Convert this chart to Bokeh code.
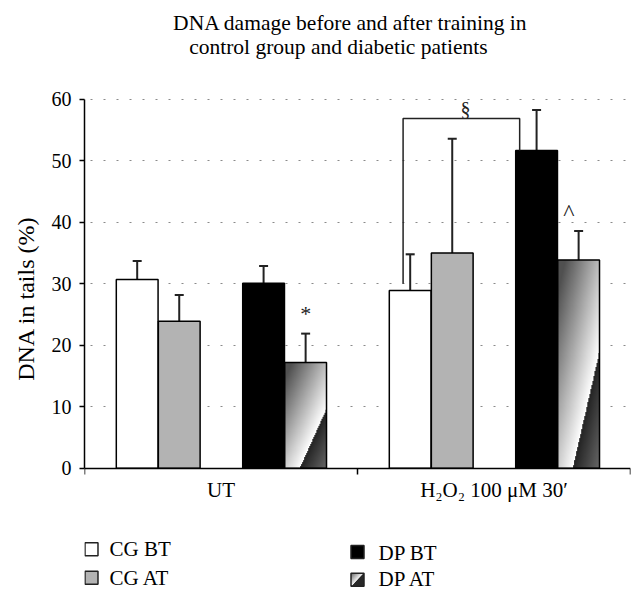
import numpy as np
from bokeh.plotting import figure
from bokeh.models import Range1d, FixedTicker, Whisker, TeeHead, ColumnDataSource
from bokeh.core.properties import value
from bokeh.embed import file_html
from bokeh.resources import INLINE

# ---------------- data ----------------
categories = ["UT", "H\u2082O\u2082 100 \u03bcM 30\u2032"]
series = ["CG BT", "CG AT", "DP BT", "DP AT"]
cg_bt = [30.7, 28.9]
cg_at = [23.9, 35.0]
dp_bt = [30.1, 51.7]
dp_at = [17.2, 33.9]
cg_bt_err = [3.0, 5.9]
cg_at_err = [4.3, 18.6]
dp_bt_err = [2.8, 6.6]
dp_at_err = [4.7, 4.7]
y_ticks = [0, 10, 20, 30, 40, 50, 60]
title_lines = ["DNA damage before and after training in", "control group and diabetic patients"]
y_label = "DNA in tails (%)"
star_y = 25.2          # "*" over UT DP AT
caret_y = 41.7         # "^" over H2O2 DP AT
bracket_top = 56.9     # "§" bracket between H2O2 CG BT and DP BT
bracket_left_bottom = 30.0
section_y = 58.4

FONT = "Liberation Serif"
values = [cg_bt, cg_at, dp_bt, dp_at]
errors = [cg_bt_err, cg_at_err, dp_bt_err, dp_at_err]
fills = ["white", "#b3b3b3", "black", None]
offsets = [0.193, 0.347, 0.656, 0.81]
bar_w = 0.153

W, H = 640, 596
PX_X = 273.0      # pixels per category
PX_Y = 6.145      # pixels per % unit
p = figure(width=W, height=H, output_backend="svg", toolbar_location=None, title=None,
           x_range=Range1d(0, len(categories)), y_range=Range1d(-20.88, 76.11),
           min_border_left=84, min_border_right=10, min_border_top=0, min_border_bottom=0)
p.outline_line_color = None
p.background_fill_color = "white"
p.border_fill_color = "white"
p.xgrid.grid_line_color = None
p.ygrid.grid_line_color = "#8a8a8a"
p.ygrid.grid_line_dash = "2 11"
p.ygrid.grid_line_dash_offset = -6
p.ygrid.grid_line_width = 1.2
p.ygrid.ticker = FixedTicker(ticks=y_ticks)

# y axis
p.yaxis.bounds = (y_ticks[0], y_ticks[-1])
p.yaxis.ticker = FixedTicker(ticks=y_ticks)
p.yaxis.major_tick_out = 5
p.yaxis.major_tick_in = 0
p.yaxis.minor_tick_line_color = None
p.yaxis.major_label_text_font = FONT
p.yaxis.major_label_text_font_size = "20px"
p.yaxis.major_label_text_color = "black"
p.yaxis.major_label_standoff = 8
p.yaxis.axis_line_width = 1.5
p.yaxis.axis_line_color = "black"
p.yaxis.major_tick_line_width = 1.5
p.yaxis.axis_label = y_label
p.yaxis.axis_label_text_font = FONT
p.yaxis.axis_label_text_font_size = "24px"
p.yaxis.axis_label_text_font_style = "normal"
p.yaxis.axis_label_text_color = "black"
p.yaxis.axis_label_standoff = 10

# x axis at y = 0
cat_centers = [i + 0.5 for i in range(len(categories))]
p.xaxis.fixed_location = 0
p.xaxis.bounds = (0, len(categories))
p.xaxis.ticker = FixedTicker(ticks=cat_centers, minor_ticks=list(range(len(categories) + 1)))
p.xaxis.major_label_overrides = {c: n for c, n in zip(cat_centers, categories)}
p.xaxis.major_tick_line_color = None
p.xaxis.minor_tick_line_color = "black"
p.xaxis.minor_tick_out = 6
p.xaxis.minor_tick_in = 0
p.xaxis.minor_tick_line_width = 1.5
p.xaxis.axis_line_width = 1.5
p.xaxis.axis_line_color = "black"
p.xaxis.major_label_text_font = FONT
p.xaxis.major_label_text_font_size = "21px"
p.xaxis.major_label_text_color = "black"
p.xaxis.major_label_standoff = 4

# title (two centred lines)
p.text(x=[0.974, 0.930], y=[72.5, 68.6], text=title_lines, text_font=value(FONT),
       text_font_size="21.5px", text_align="center", text_baseline="alphabetic",
       text_color="black")


def gradient_image(nx, ny, x0, y1):
    u = (np.arange(nx) + 0.5) / nx
    v = (np.arange(ny) + 0.5) / ny
    U, V = np.meshgrid(u, v)
    s = U - (x0 + (1 - x0) * V / y1)
    g = np.where(s < 0, 255 + 135 * s, 35 + 110 * s)
    g = np.where(s < 0, np.clip(g, 80, 255), np.clip(g, 30, 120))
    img = np.empty((ny, nx), dtype=np.uint32)
    view = img.view(dtype=np.uint8).reshape((ny, nx, 4))
    view[..., 0] = g.astype(np.uint8)
    view[..., 1] = g.astype(np.uint8)
    view[..., 2] = g.astype(np.uint8)
    view[..., 3] = 255
    return img


# bars + error bars
for k, (vals, errs, fc) in enumerate(zip(values, errors, fills)):
    xs = [i + offsets[k] for i in range(len(categories))]
    if fc is None:
        for x, v in zip(xs, vals):
            p.image_rgba(image=[gradient_image(42, 200, 0.35, 0.58)], x=x - bar_w / 2, y=0,
                         dw=bar_w, dh=v)
        p.vbar(x=xs, top=vals, width=bar_w, fill_color=None, line_color="black", line_width=1.5)
    else:
        p.vbar(x=xs, top=vals, width=bar_w, fill_color=fc, line_color="black", line_width=1.5)
    src = ColumnDataSource(dict(x=xs, lower=vals, upper=[a + b for a, b in zip(vals, errs)]))
    p.add_layout(Whisker(base="x", lower="lower", upper="upper", source=src,
                         line_color="#222222", line_width=2, lower_head=None,
                         upper_head=TeeHead(size=9, line_color="#222222", line_width=2)))

# significance marks
p.text(x=[0 + offsets[3]], y=[star_y], text=["*"], text_font=value(FONT), text_font_size="22px",
       text_align="center", text_baseline="middle", text_color="#222222")
p.text(x=[1 + offsets[3] - 0.036], y=[caret_y], text=["^"], text_font=value(FONT),
       text_font_size="24px", text_align="center", text_baseline="middle", text_color="#222222")

bl = 1 + 0.167
br = 1 + 0.594
p.line(x=[bl, bl, br, br], y=[bracket_left_bottom, bracket_top, bracket_top, dp_bt[1]],
       line_color="#222222", line_width=1.5)
p.text(x=[(bl + br) / 2 + 0.015], y=[section_y], text=["\u00a7"], text_font=value(FONT),
       text_font_size="20px", text_align="center", text_baseline="middle", text_color="#222222")

# ---------------- legend (below the axis) ----------------
leg_x = [0.0256, 0.0256, 1.0, 1.0]
leg_y = [-13.2, -17.84, -13.64, -18.16]
leg_tx = [0.0916, 0.0916, 1.0769, 1.0769]
leg_ty = [-13.2, -17.95, -13.85, -18.05]
sq = 13
sq_dx = sq / PX_X
sq_dy = sq / PX_Y


def legend_grad(n):
    u = (np.arange(n) + 0.5) / n
    v = (np.arange(n) + 0.5) / n
    U, V = np.meshgrid(u, v)
    s = U - V
    g = np.clip(245 + 150 * s, 110, 255)
    g = np.where(s >= 0, 40, g)
    img = np.empty((n, n), dtype=np.uint32)
    view = img.view(dtype=np.uint8).reshape((n, n, 4))
    view[..., 0] = g.astype(np.uint8)
    view[..., 1] = g.astype(np.uint8)
    view[..., 2] = g.astype(np.uint8)
    view[..., 3] = 255
    return img


p.image_rgba(image=[legend_grad(26)], x=leg_x[3] - sq_dx / 2, y=leg_y[3] - sq_dy / 2,
             dw=sq_dx, dh=sq_dy)
p.rect(x=leg_x, y=leg_y, width=sq, height=sq, width_units="screen", height_units="screen",
       fill_color=["white", "#b3b3b3", "black", None], line_color="#222222", line_width=1.5)
p.text(x=leg_tx, y=leg_ty, text=series, text_font=value(FONT),
       text_font_size="21px", text_align="left", text_baseline="alphabetic", text_color="black")

open("out.html", "w").write(file_html(p, INLINE))
